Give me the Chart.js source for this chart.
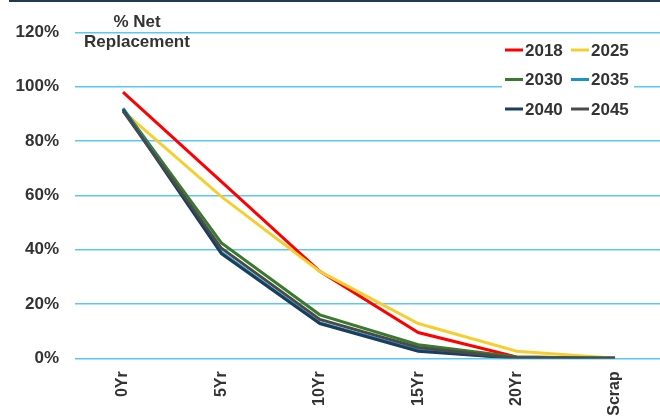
<!DOCTYPE html>
<html>
<head>
<meta charset="utf-8">
<script src="https://cdn.jsdelivr.net/npm/chart.js@4.4.1/dist/chart.umd.min.js"></script>
<style>
  html, body { margin: 0; padding: 0; background: #fff; overflow: hidden; }
  #wrap { position: relative; width: 660px; height: 417px; }
</style>
</head>
<body>
<div id="wrap"><canvas id="chart"></canvas></div>
<script>
// categories and series
const categories = ['0Yr', '5Yr', '10Yr', '15Yr', '20Yr', 'Scrap'];
const yTicks = [0, 20, 40, 60, 80, 100, 120];
const years = ['2018', '2025', '2030', '2035', '2040', '2045'];
const s2018 = [98, 65, 32, 9.5, 0.5, 0];
const s2025 = [91, 59.5, 32, 12.8, 2.6, 0];
const s2030 = [92, 42.5, 16, 5, 0.5, 0];
const s2035 = [92, 39, 13, 3, 0, 0];
const s2040 = [91.5, 38.5, 12.8, 2.6, 0, 0];
const s2045 = [91, 40.5, 14.3, 4, 0, 0];
const colors = ['#ff0000', '#f5cf32', '#3a7a2c', '#1a94c4', '#1b3d5e', '#4a4a4a'];

const FONT = '"Liberation Sans", Arial, sans-serif';
const TEXT = '#333333';

const series = [s2018, s2025, s2030, s2035, s2040, s2045];
const datasets = series.map((vals, i) => ({
  label: years[i],
  data: vals.map((v, j) => ({ x: j, y: v })),
  borderColor: colors[i],
  backgroundColor: colors[i],
  borderWidth: 3,
  pointRadius: 0,
  tension: 0,
  order: series.length - i, // later years sit on top, like the original
}));

// top rule, title and a two-column legend drawn straight on the canvas
const decorations = {
  id: 'decorations',
  beforeDraw(chart) {
    const ctx = chart.ctx;
    ctx.save();
    ctx.fillStyle = '#1d3a56';
    ctx.fillRect(9, 0, 651, 2);
    ctx.restore();
  },
  afterDraw(chart) {
    const ctx = chart.ctx;
    ctx.save();
    ctx.font = 'bold 17px ' + FONT;
    ctx.fillStyle = TEXT;
    ctx.textAlign = 'center';
    ctx.textBaseline = 'middle';
    ctx.fillText('% Net', 137, 22);
    ctx.fillText('Replacement', 137, 42);

    // legend
    ctx.fillStyle = '#ffffff';
    ctx.fillRect(502, 36, 132, 88);
    ctx.textAlign = 'left';
    chart.data.datasets.forEach((ds, i) => {
      const col = i % 2;
      const row = Math.floor(i / 2);
      const x0 = 505 + col * 66;
      const y = 50 + row * 29.5;
      ctx.strokeStyle = ds.borderColor;
      ctx.lineWidth = 3;
      ctx.beginPath();
      ctx.moveTo(x0, y);
      ctx.lineTo(x0 + 18, y);
      ctx.stroke();
      ctx.fillStyle = TEXT;
      ctx.fillText(ds.label, x0 + 20, y + 1);
    });
    ctx.restore();
  }
};

new Chart(document.getElementById('chart'), {
  type: 'line',
  data: { datasets },
  options: {
    responsive: true,
    maintainAspectRatio: false,
    animation: false,
    layout: { padding: { top: 32.3, right: 0, bottom: 0, left: 0 } },
    plugins: {
      legend: { display: false },
      tooltip: { enabled: false },
    },
    scales: {
      x: {
        type: 'linear',
        min: -0.488,
        max: 5.457,
        grid: { display: false, drawTicks: false },
        border: { display: false },
        afterBuildTicks: (scale) => {
          scale.ticks = categories.map((c, i) => ({ value: i }));
        },
        afterFit: (scale) => { scale.height = 58.7; },
        ticks: {
          autoSkip: false,
          maxRotation: 90,
          minRotation: 90,
          padding: 13,
          color: TEXT,
          font: { family: FONT, size: 16, weight: 'bold' },
          callback: (v) => categories[v],
        },
      },
      y: {
        min: 0,
        max: 120,
        afterBuildTicks: (scale) => {
          scale.ticks = yTicks.map(v => ({ value: v }));
        },
        afterFit: (scale) => { scale.width = 75; },
        grid: { color: '#5bc8f0', lineWidth: 1.5, drawTicks: false },
        border: { display: false },
        ticks: {
          padding: 16,
          color: TEXT,
          font: { family: FONT, size: 17, weight: 'bold' },
          callback: (v) => v + '%',
        },
      },
    },
  },
  plugins: [decorations],
});
</script>
</body>
</html>
